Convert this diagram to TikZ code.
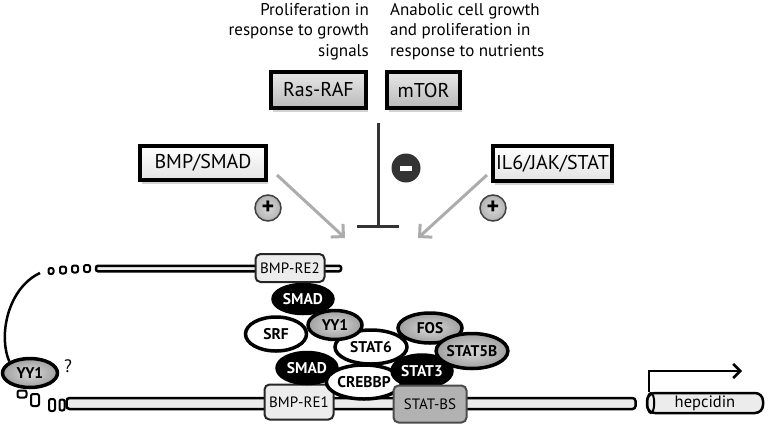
\documentclass[tikz,border=0pt]{standalone}
\usepackage{fontspec}
\setmainfont{PT Sans}
\usetikzlibrary{shapes.geometric,shadows,arrows.meta}
\begin{document}
\begin{tikzpicture}[x=1pt,y=-1pt,
  toptext/.style={inner sep=0pt,font=\fontsize{17}{20.5}\selectfont},
  bigbox/.style={rectangle,draw=black,line width=4pt,inner sep=0pt,
    font=\fontsize{20}{24}\selectfont,
    drop shadow={shadow xshift=2pt,shadow yshift=-4pt,opacity=.35}},
  darkgrad/.style={top color=gray!18,bottom color=gray!55},
  lightgrad/.style={top color=white,bottom color=gray!22},
  site/.style={rectangle,rounded corners=5pt,draw=black!85,line width=2pt,inner sep=0pt,
    font=\fontsize{15}{16}\selectfont},
  tube/.style={rectangle,rounded corners=3pt,draw=black,line width=2.5pt,fill=gray!15,inner sep=0pt},
  prot/.style={ellipse,line width=3.5pt,inner sep=0pt,font=\bfseries\fontsize{15.5}{16}\selectfont},
  blk/.style={prot,draw=black,fill=black,text=white},
  wht/.style={prot,draw=black,fill=white},
  gry/.style={prot,draw=black,inner color=gray!30,outer color=gray!75},
  dot/.style={rectangle,rounded corners=2pt,draw=black,line width=2pt,fill=white,inner sep=0pt},
  actarrow/.style={draw=gray!65,line width=3pt,-{Straight Barb[length=9pt,width=18pt,line width=3pt]}},
  plus/.style={circle,draw=black!75,line width=1.5pt,inner color=gray!30,outer color=gray!60,
    minimum size=26pt,inner sep=0pt,font=\bfseries\fontsize{24}{24}\selectfont}
]
\useasboundingbox (0,0) rectangle (771,432);

% top texts
\node[toptext,anchor=north east,align=right] (t1) at (369,3) {Proliferation in\\response to growth\\signals};
\node[toptext,anchor=north west,align=left] (t2) at (390,3) {Anabolic cell growth\\and proliferation in\\response to nutrients};

% pathway boxes
\node[bigbox,darkgrad,minimum width=95pt,minimum height=36pt] (ras) at (318.5,90) {Ras-RAF};
\node[bigbox,darkgrad,minimum width=73pt,minimum height=36pt] (mtor) at (423.5,90) {mTOR};
\node[bigbox,lightgrad,minimum width=126pt,minimum height=34pt] (bmp) at (203,163) {BMP/SMAD};
\node[bigbox,lightgrad,minimum width=119pt,minimum height=35pt] (il6) at (552.5,163.5) {IL6/JAK/STAT};

% inhibition
\coordinate (inhTop) at (378,123);
\coordinate (inhEnd) at (378,228);
\draw[draw=black!80,line width=3pt,-{Bar[width=42pt,line width=3pt]}] (inhTop) -- (inhEnd);
\node[circle,fill=black!80,minimum size=29pt,inner sep=0pt] (minus) at (406,168) {};
\fill[white] ([xshift=-6pt,yshift=-2.5pt]minus.center) rectangle ([xshift=6pt,yshift=2.5pt]minus.center);

% activation arrows
\coordinate (bmpStart) at (277,175);
\coordinate (bmpEnd) at (345,238);
\coordinate (ilStart) at (487,175);
\coordinate (ilEnd) at (418,238);
\draw[actarrow] (bmpStart) -- (bmpEnd);
\draw[actarrow] (ilStart) -- (ilEnd);
\node[plus] (p1) at (268,208) {+};
\node[plus] (p2) at (493,208) {+};

% upper DNA
\node[tube,minimum width=245pt,minimum height=5.5pt,rounded corners=2pt] (up) at (218.5,268.5) {};
\node[dot,minimum width=5pt,minimum height=6pt] (d1) at (51,271) {};
\node[dot,minimum width=6pt,minimum height=7pt] (d2) at (63,270) {};
\node[dot,minimum width=6pt,minimum height=7pt] (d3) at (75,269) {};
\node[dot,minimum width=6pt,minimum height=7pt] (d4) at (87,268.5) {};
\node[site,fill=gray!15,minimum width=69pt,minimum height=28pt] (re2) at (290,268) {BMP-RE2};

% loop
\node[gry,minimum width=55pt,minimum height=29pt] (yyl) at (30,373) {YY1};
\coordinate (loopS) at (40,273);
\draw[line width=2.5pt] (loopS) .. controls (8,288) and (-2,335) .. (yyl.north west);
\node[font=\fontsize{18}{18}\selectfont,inner sep=0pt] (q) at (68,366) {?};

% lower DNA
\node[dot,minimum width=9pt,minimum height=7pt] (s1) at (22,394) {};
\node[dot,minimum width=8pt,minimum height=12pt] (s2) at (35,400) {};
\node[dot,minimum width=6pt,minimum height=12pt] (s3) at (52,405) {};
\node[dot,minimum width=5pt,minimum height=11pt] (s4) at (62,405) {};
\node[tube,minimum width=569pt,minimum height=11pt] (low) at (351,403.5) {};
\node[site,fill=gray!15,minimum width=69pt,minimum height=35pt] (re1) at (299,402) {BMP-RE1};

% protein complex
\node[wht,minimum width=61pt,minimum height=34pt] (srf) at (276,334) {SRF};
\node[blk,minimum width=60pt,minimum height=29pt] (smad1) at (303,299) {SMAD};
\node[wht,minimum width=72pt,minimum height=34pt] (stat6) at (371,347) {STAT6};
\node[gry,minimum width=54pt,minimum height=29pt] (yy1) at (335,325) {YY1};
\node[blk,minimum width=60pt,minimum height=31pt] (smad2) at (307,368) {SMAD};
\node[wht,minimum width=70pt,minimum height=34pt] (crebbp) at (364,382) {CREBBP};
\node[blk,minimum width=60pt,minimum height=32pt] (stat3) at (422,371) {STAT3};
\node[gry,minimum width=64pt,minimum height=30pt] (fos) at (430,328) {FOS};
\node[gry,minimum width=71pt,minimum height=35pt] (stat5b) at (472,351) {STAT5B};
\node[site,fill=gray!60,draw=black!70,minimum width=73pt,minimum height=37pt] (statbs) at (430,404) {STAT-BS};

% hepcidin
\node[rectangle,rounded corners=8pt,draw=black,line width=2.5pt,fill=gray!15,inner sep=0pt,
  minimum width=116pt,minimum height=20pt,font=\fontsize{16.5}{17}\selectfont] (hep) at (705,403) {hepcidin};
\draw[line width=2pt] ([xshift=5pt]hep.west) ellipse [x radius=3.5pt, y radius=10pt];
\coordinate (promEnd) at (742,371);
\draw[line width=2.5pt,-{Straight Barb[length=7pt,width=14pt,line width=2.5pt]}] ([xshift=3pt]hep.north west) |- (promEnd);
\end{tikzpicture}
\end{document}
